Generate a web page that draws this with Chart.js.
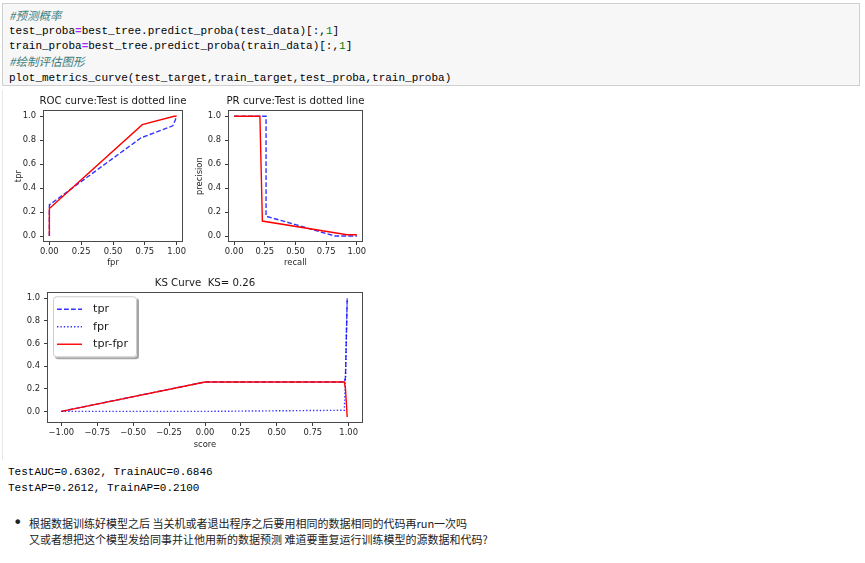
<!DOCTYPE html>
<html><head><meta charset="utf-8">
<script src="https://cdn.jsdelivr.net/npm/chart.js@4.4.0/dist/chart.umd.min.js"></script>
<style>
body{margin:0;background:#fff;width:865px;height:563px;overflow:hidden;position:relative;font-family:"DejaVu Sans",sans-serif;}
.code{position:absolute;left:2px;top:3px;width:858px;height:83px;background:#f7f7f7;border:1px solid #cfcfcf;box-sizing:border-box;}
.code pre{margin:0;position:absolute;left:6px;top:3.5px;font:11px/14.75px "Liberation Mono",monospace;color:#000;}
.c{color:#408080;font-style:italic;font-family:"Noto Sans CJK SC",sans-serif;font-size:11.5px}
.o{color:#AA22FF;font-weight:bold}
.n{color:#008000}
canvas{position:absolute}
.vline{position:absolute;left:2px;top:90px;width:1px;height:370px;background:#e8e8e8}
.out{position:absolute;left:8px;top:463.7px;margin:0;font:11px/16px "Liberation Mono",monospace;color:#000;}
.bul{position:absolute;left:13px;top:513px;font:16px/20px "DejaVu Sans",sans-serif;color:#222}
.btxt{position:absolute;left:29px;top:516px;font:11px/15.5px "Noto Sans CJK SC",sans-serif;color:#222;white-space:nowrap}
</style></head>
<body>
<div class="code"><pre><span class="c">#预测概率</span>
test_proba<span class="o">=</span>best_tree.predict_proba(test_data)[:,<span class="n">1</span>]
train_proba<span class="o">=</span>best_tree.predict_proba(train_data)[:,<span class="n">1</span>]
<span class="c">#绘制评估图形</span>
plot_metrics_curve(test_target,train_target,test_proba,train_proba)</pre></div>
<div class="vline"></div>
<canvas id="roc" width="226" height="182" style="left:0px;top:92px"></canvas>
<canvas id="pr" width="211" height="182" style="left:190px;top:92px"></canvas>
<canvas id="ks" width="410" height="180" style="left:0px;top:276px"></canvas>
<pre class="out">TestAUC=0.6302, TrainAUC=0.6846
TestAP=0.2612, TrainAP=0.2100</pre>
<div class="bul">•</div>
<div class="btxt">根据数据训练好模型之后 当关机或者退出程序之后要用相同的数据相同的代码再run一次吗<br>又或者想把这个模型发给同事并让他用新的数据预测 难道要重复运行训练模型的源数据和代码?</div>
<script>
// ---- data ----
const rocTestFpr  = [0.0, 0.0, 0.72, 0.97, 0.99, 1.0];
const rocTestTpr  = [0.0, 0.26, 0.82, 0.92, 0.97, 1.0];
const rocTrainFpr = [0.0, 0.0, 0.73, 0.98, 1.0];
const rocTrainTpr = [0.0, 0.23, 0.93, 1.0, 1.0];

const prTestRecall     = [0.0, 0.26, 0.26, 0.50, 0.82, 1.0];
const prTestPrecision  = [1.0, 1.0, 0.165, 0.095, 0.0, 0.0];
const prTrainRecall    = [0.0, 0.21, 0.23, 0.92, 1.0];
const prTrainPrecision = [1.0, 1.0, 0.125, 0.01, 0.01];

const ksScore = [-1.0, 0.0, 0.97, 0.978, 0.99];
const ksTpr   = [0.0, 0.26, 0.26, 0.30, 1.0];
const ksFpr   = [0.0, 0.0, 0.01, 0.30, 1.0];
const ksDiff  = [0.0, 0.26, 0.26, 0.20, -0.05];
const ksLabels = ['tpr', 'fpr', 'tpr-fpr'];

const unitTicks = [0.0, 0.25, 0.5, 0.75, 1.0];
const probTicks = [0.0, 0.2, 0.4, 0.6, 0.8, 1.0];
const ksXTicks  = [-1.0, -0.75, -0.5, -0.25, 0.0, 0.25, 0.5, 0.75, 1.0];

// ---- helpers ----
const pts = (xs, ys) => xs.map((x, i) => ({x: x, y: ys[i]}));
const fmt = d => v => (v < 0 ? '\u2212' : '') + Math.abs(v).toFixed(d);
const TICK_FONT = {family: 'DejaVu Sans', size: 8.4};
const TXT = '#262626';

const frame = {id: 'frame', afterDatasetsDraw(chart) {
  const {ctx, chartArea: a} = chart;
  ctx.save();
  ctx.strokeStyle = '#4a4a4a'; ctx.lineWidth = 1;
  ctx.strokeRect(Math.round(a.left) + 0.5, Math.round(a.top) + 0.5,
                 Math.round(a.right - a.left) - 1, Math.round(a.bottom - a.top) - 1);
  ctx.restore();
}};

function axis(min, max, ticks, dec, size, title, tpad) {
  return {
    type: 'linear', min: min, max: max,
    afterBuildTicks(s) { s.ticks = ticks.map(v => ({value: v})); },
    afterFit(s) { if (s.isHorizontal()) s.height = size; else s.width = size; },
    grid: {display: true, drawOnChartArea: false, drawTicks: true, tickLength: 3, color: '#3a3a3a'},
    border: {display: false},
    ticks: {font: TICK_FONT, color: TXT, padding: 2, maxRotation: 0, autoSkip: false, callback: fmt(dec)},
    title: title ? {display: true, text: title, font: TICK_FONT, color: TXT, padding: tpad} : {display: false}
  };
}
function dummyRight(w) {
  return {type: 'linear', position: 'right', display: true, grid: {display: false}, border: {display: false},
          ticks: {display: false}, afterFit(s) { s.width = w; }};
}
function line(label, data, color, dash, order) {
  return {label: label, data: data, showLine: true, borderColor: color, backgroundColor: color,
          borderWidth: 1.4, borderDash: dash, pointRadius: 0, fill: false, tension: 0, order: order};
}
const BLUE = 'rgba(0,0,255,0.8)', RED = '#ff0000';
const DASH = [4.8, 2.2], DOT = [1.4, 2.0];

function baseOpts(title, tTop, tBot) {
  return {
    responsive: false, animation: false, devicePixelRatio: 1,
    layout: {padding: 0},
    plugins: {
      legend: {display: false}, tooltip: {enabled: false},
      title: {display: true, text: title, font: {family: 'DejaVu Sans', size: 10.2, weight: 'normal'},
              color: '#1a1a1a', padding: {top: tTop, bottom: tBot}}
    }
  };
}

// ROC
(function () {
  const o = baseOpts('ROC curve:Test is dotted line', 3.7, 2.3);
  o.scales = {
    x: axis(-0.05, 1.05, unitTicks, 2, 32, 'fpr', {top: 0, bottom: 6}),
    y: axis(-0.05, 1.05, probTicks, 1, 43, 'tpr', {top: 13.3, bottom: 0}),
    yR: dummyRight(43)
  };
  o.scales.y.ticks.padding = 4;
  new Chart(document.getElementById('roc'), {
    type: 'scatter',
    data: {datasets: [
      line('test', pts(rocTestFpr, rocTestTpr), BLUE, DASH, 1),
      line('train', pts(rocTrainFpr, rocTrainTpr), RED, [], 0)
    ]},
    options: o, plugins: [frame]
  });
})();

// PR
(function () {
  const o = baseOpts('PR curve:Test is dotted line', 3.7, 2.3);
  o.scales = {
    x: axis(-0.05, 1.05, unitTicks, 2, 32, 'recall', {top: 0, bottom: 6}),
    y: axis(-0.05, 1.05, probTicks, 1, 38, 'precision', {top: 4.3, bottom: 0}),
    yR: dummyRight(38)
  };
  o.scales.y.ticks.padding = 4;
  new Chart(document.getElementById('pr'), {
    type: 'scatter',
    data: {datasets: [
      line('test', pts(prTestRecall, prTestPrecision), BLUE, DASH, 1),
      line('train', pts(prTrainRecall, prTrainPrecision), RED, [], 0)
    ]},
    options: o, plugins: [frame]
  });
})();

// KS
const ksLegend = {id: 'ksLegend', afterDraw(chart) {
  const ctx = chart.ctx, a = chart.chartArea;
  const x = a.left + 6, y = a.top + 4, w = 84, h = 61;
  const rr = (X, Y, W, H, r) => { ctx.beginPath(); ctx.moveTo(X + r, Y); ctx.arcTo(X + W, Y, X + W, Y + H, r);
    ctx.arcTo(X + W, Y + H, X, Y + H, r); ctx.arcTo(X, Y + H, X, Y, r); ctx.arcTo(X, Y, X + W, Y, r); ctx.closePath(); };
  ctx.save();
  ctx.fillStyle = 'rgba(0,0,0,0.35)'; rr(x + 2, y + 2, w, h, 3); ctx.fill();
  ctx.fillStyle = '#ffffff'; rr(x, y, w, h, 3); ctx.fill();
  ctx.strokeStyle = '#cccccc'; ctx.lineWidth = 1; rr(x + 0.5, y + 0.5, w - 1, h - 1, 3); ctx.stroke();
  chart.data.datasets.forEach((ds, i) => {
    const cy = y + 13 + i * 17.5;
    ctx.strokeStyle = ds.borderColor; ctx.lineWidth = ds.borderWidth; ctx.setLineDash(ds.borderDash || []);
    ctx.beginPath(); ctx.moveTo(x + 4, cy); ctx.lineTo(x + 29, cy); ctx.stroke(); ctx.setLineDash([]);
    ctx.fillStyle = '#1a1a1a'; ctx.font = '11.2px "DejaVu Sans"'; ctx.textBaseline = 'middle'; ctx.textAlign = 'left';
    ctx.fillText(ds.label, x + 40, cy);
  });
  ctx.restore();
}};
(function () {
  const o = baseOpts('KS Curve  KS= 0.26', 1, 3);
  o.scales = {
    x: axis(-1.1, 1.1, ksXTicks, 2, 33, 'score', {top: 0, bottom: 6}),
    y: axis(-0.1025, 1.0525, probTicks, 1, 47, null, 0),
    yR: dummyRight(47)
  };
  o.scales.y.ticks.padding = 4;
  new Chart(document.getElementById('ks'), {
    type: 'scatter',
    data: {datasets: [
      line(ksLabels[0], pts(ksScore, ksTpr), BLUE, DASH, 1),
      line(ksLabels[1], pts(ksScore, ksFpr), BLUE, DOT, 2),
      line(ksLabels[2], pts(ksScore, ksDiff), RED, [], 0)
    ]},
    options: o, plugins: [frame, ksLegend]
  });
})();
</script>
</body></html>
